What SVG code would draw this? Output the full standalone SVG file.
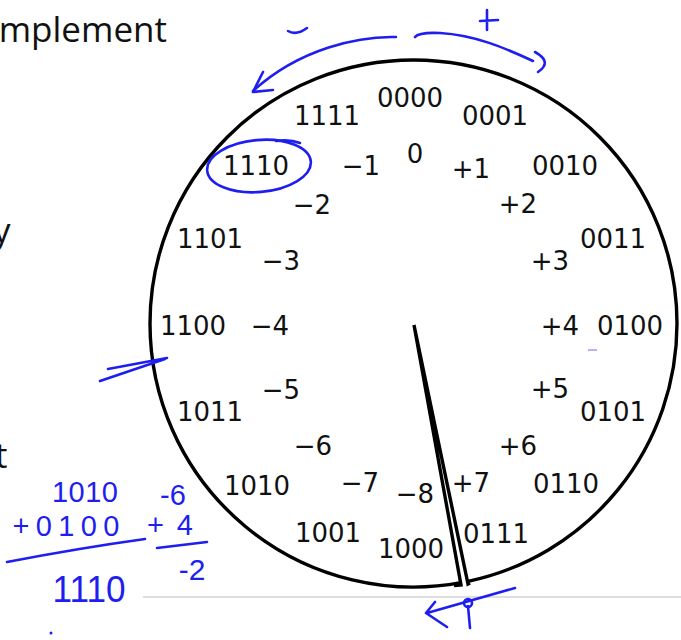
<svg xmlns="http://www.w3.org/2000/svg" width="681" height="640" viewBox="0 0 681 640">
<style>
.lbl{font-family:"DejaVu Sans","Liberation Sans",sans-serif;font-size:26px;fill:#111;text-anchor:middle}
.ttl{font-family:"Open Sans","Liberation Sans",sans-serif;font-size:35px;fill:#111}
.ink{fill:none;stroke:#1e1ef0;stroke-width:2.6;stroke-linecap:round;stroke-linejoin:round}
.hw{font-family:"Liberation Sans","DejaVu Sans",sans-serif;fill:#1e1ef0;text-anchor:middle}
.wheel{fill:none;stroke:#000;stroke-width:3.4;stroke-linejoin:miter}
</style>
<rect width="681" height="640" fill="#fff"/>
<g id="title-text">
<text class="ttl" x="167" y="42" text-anchor="end">mplement</text>
<text class="ttl" x="-7" y="243">y</text>
<text class="ttl" x="-5" y="468">t</text>
</g>
<g id="wheel">
<path class="wheel" d="M461,582.7 A263.5,263.5 0 0 1 150,323.5 A263.5,263.5 0 0 1 677,323.5 A263.5,263.5 0 0 1 468,581.3"/>
<path class="wheel" d="M454,585.5 L461,585 L414,325 L468,584 L470,583"/>
</g>
<line x1="143" y1="597" x2="681" y2="597" stroke="#bdbdbd" stroke-width="1"/>
<g id="labels">
<g id="n0000"><text class="lbl" x="410" y="107">0000</text></g>
<g id="n1111"><text class="lbl" x="327" y="125">1111</text></g>
<g id="n0001"><text class="lbl" x="495" y="125">0001</text></g>
<g id="n1110"><text class="lbl" x="256" y="175">1110</text></g>
<g id="m1"><text class="lbl" x="361" y="175">−1</text></g>
<g id="z0"><text class="lbl" x="415" y="163">0</text></g>
<g id="p1"><text class="lbl" x="471" y="178">+1</text></g>
<g id="n0010"><text class="lbl" x="565" y="175">0010</text></g>
<g id="m2"><text class="lbl" x="312" y="214">−2</text></g>
<g id="p2"><text class="lbl" x="518" y="213">+2</text></g>
<g id="n1101"><text class="lbl" x="210" y="248">1101</text></g>
<g id="m3"><text class="lbl" x="281" y="270">−3</text></g>
<g id="p3"><text class="lbl" x="550" y="270">+3</text></g>
<g id="n0011"><text class="lbl" x="613" y="248">0011</text></g>
<g id="n1100"><text class="lbl" x="193" y="335">1100</text></g>
<g id="m4"><text class="lbl" x="270" y="335">−4</text></g>
<g id="p4"><text class="lbl" x="560" y="335">+4</text></g>
<g id="n0100"><text class="lbl" x="630" y="335">0100</text></g>
<g id="m5"><text class="lbl" x="281" y="399">−5</text></g>
<g id="p5"><text class="lbl" x="550" y="398">+5</text></g>
<g id="n1011"><text class="lbl" x="210" y="421">1011</text></g>
<g id="n0101"><text class="lbl" x="613" y="421">0101</text></g>
<g id="m6"><text class="lbl" x="313" y="455">−6</text></g>
<g id="p6"><text class="lbl" x="518" y="455">+6</text></g>
<g id="n1010"><text class="lbl" x="257" y="495">1010</text></g>
<g id="m7"><text class="lbl" x="360" y="492">−7</text></g>
<g id="m8"><text class="lbl" x="415" y="503">−8</text></g>
<g id="p7"><text class="lbl" x="471" y="492">+7</text></g>
<g id="n0110"><text class="lbl" x="566" y="493">0110</text></g>
<g id="n1001"><text class="lbl" x="328" y="542">1001</text></g>
<g id="n1000"><text class="lbl" x="411" y="558">1000</text></g>
<g id="n0111"><text class="lbl" x="496" y="543">0111</text></g>
</g>
<g id="connectors">
<path class="ink" d="M396,37 C360,36 300,48 253,91"/>
<path class="ink" d="M263,72 L253,92 L273,90"/>
<path class="ink" d="M288,31 Q296,36 307,28"/>
<path class="ink" d="M415,37 Q419,32 440,33 C475,35 505,48 533,61"/>
<path class="ink" d="M535,52 Q553,62 538,72"/>
<path class="ink" d="M480,21 L498,20 M487,10 L487,30"/>
<ellipse class="ink" cx="259" cy="166" rx="52" ry="26" transform="rotate(-5 259 166)"/>
<path class="ink" d="M276,141 Q290,139 300,143"/>
<path class="ink" d="M108,369 L167,358 M100,381 L165,359"/>
<path class="ink" d="M515,588 L427,613 M435,602 L426,613 L447,627"/>
<circle class="ink" cx="468" cy="603" r="4"/>
<path class="ink" d="M468,606 L470,628"/>
<path class="ink" d="M7,562 Q80,548 145,539 M157,548 L207,542"/>
<path d="M588,350 L597,350" stroke="#9a9aff" stroke-width="1.5"/>
<circle cx="51" cy="633" r="1.5" fill="#1e1ef0"/>
</g>
<g id="arithmetic">
<text class="hw" x="85" y="502" font-size="29" textLength="66" lengthAdjust="spacing">1010</text>
<text class="hw" x="173" y="505" font-size="29">-6</text>
<text class="hw" x="66" y="536" font-size="29" textLength="107" lengthAdjust="spacing">+0100</text>
<text class="hw" x="170" y="535" font-size="29" textLength="46" lengthAdjust="spacing">+4</text>
<text class="hw" x="89" y="602" font-size="36" textLength="73" lengthAdjust="spacingAndGlyphs">1110</text>
<text class="hw" x="192" y="580" font-size="30">-2</text>
</g>
</svg>
